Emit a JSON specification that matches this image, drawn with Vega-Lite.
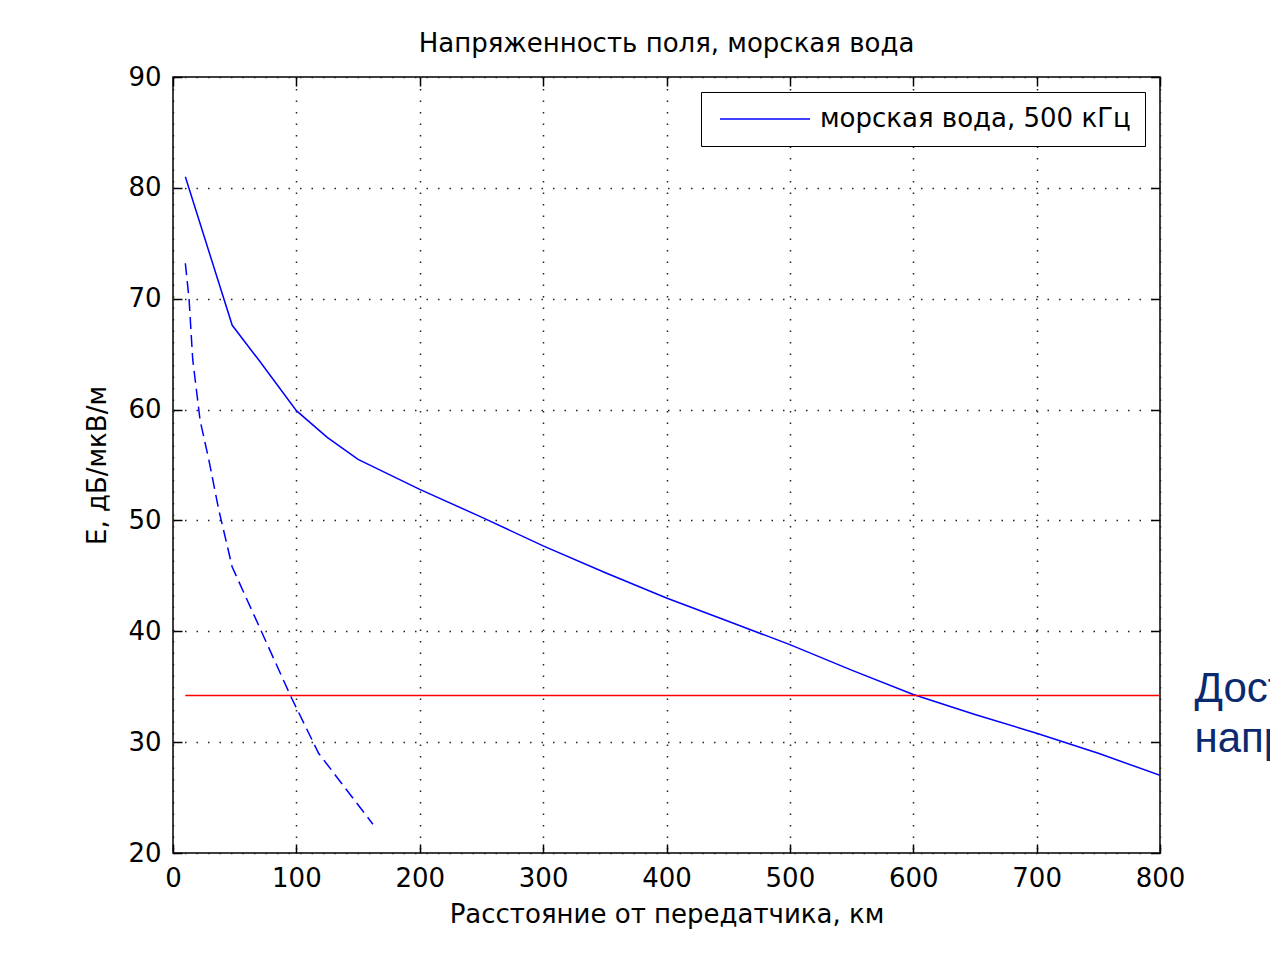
{
  "$schema": "https://vega.github.io/schema/vega-lite/v6.json",
  "autosize": {"type": "none"},
  "padding": {"left": 173, "top": 77, "right": 110, "bottom": 100},
  "width": 987,
  "height": 776,
  "background": "white",
  "title": {"text": "Напряженность поля, морская вода", "font": "DejaVu Sans", "fontSize": 26, "fontWeight": "normal", "color": "black", "offset": 7},
  "config": {
    "view": {"stroke": "black", "strokeWidth": 1.5},
    "axis": {"labelFont": "DejaVu Sans", "labelFontSize": 26, "labelColor": "black", "titleFont": "DejaVu Sans", "titleFontSize": 26, "titleFontWeight": "normal", "titleColor": "black", "domain": false, "tickColor": "black", "tickWidth": 1.5, "tickSize": -9, "labelFlush": false, "gridColor": "#222", "gridDash": [1.5, 10], "gridWidth": 1.5, "gridOpacity": 1}
  },
  "datasets": {
    "solid": [
      {"d": 10, "e": 81.0}, {"d": 48, "e": 67.6}, {"d": 70, "e": 64.4}, {"d": 100, "e": 59.9},
      {"d": 125, "e": 57.5}, {"d": 150, "e": 55.5}, {"d": 200, "e": 52.8}, {"d": 250, "e": 50.3},
      {"d": 300, "e": 47.7}, {"d": 350, "e": 45.3}, {"d": 400, "e": 43.0}, {"d": 450, "e": 40.9},
      {"d": 500, "e": 38.8}, {"d": 550, "e": 36.5}, {"d": 600, "e": 34.3}, {"d": 650, "e": 32.5},
      {"d": 700, "e": 30.8}, {"d": 750, "e": 29.0}, {"d": 800, "e": 27.0}
    ],
    "dashed": [
      {"d": 10, "e": 73.2}, {"d": 13, "e": 70.0}, {"d": 16, "e": 64.5}, {"d": 22, "e": 59.0},
      {"d": 29, "e": 55.5}, {"d": 37, "e": 51.0}, {"d": 48, "e": 45.8}, {"d": 96, "e": 34.0},
      {"d": 118, "e": 29.0}, {"d": 162, "e": 22.6}
    ],
    "threshold": [{"d": 10, "e": 34.2}, {"d": 800, "e": 34.2}],
    "note": [{"d": 828, "e": 33.6, "t": "Достаточная"}, {"d": 828, "e": 29.1, "t": "напряженность"}]
  },
  "layer": [
    {
      "data": {"name": "solid"},
      "mark": {"type": "line", "strokeWidth": 1.5, "clip": true},
      "encoding": {
        "x": {"field": "d", "type": "quantitative", "scale": {"domain": [0, 800], "nice": false, "clamp": false}, "axis": {"orient": "bottom", "values": [0,100,200,300,400,500,600,700,800], "title": "Расстояние от передатчика, км", "grid": true, "labelPadding": 21, "titlePadding": 10}},
        "y": {"field": "e", "type": "quantitative", "scale": {"domain": [20, 90], "nice": false, "zero": false}, "axis": {"orient": "left", "values": [20,30,40,50,60,70,80,90], "title": "E, дБ/мкВ/м", "grid": true, "labelPadding": 21, "titlePadding": 17}},
        "color": {"datum": "морская вода, 500 кГц", "type": "nominal", "scale": {"range": ["#0000ff"]}, "legend": {"title": null, "orient": "top-right", "offset": 15, "symbolType": "M-5,0H5", "symbolSize": 324, "symbolOffset": 37, "symbolStrokeWidth": 1.5, "labelFont": "DejaVu Sans", "labelFontSize": 26, "labelLimit": 500, "labelColor": "black", "strokeColor": "black", "fillColor": "white", "padding": 14, "labelOffset": 42}}
      }
    },
    {
      "data": {"name": "dashed"},
      "mark": {"type": "line", "strokeWidth": 1.5, "color": "#0000ff", "strokeDash": [12, 6], "clip": true},
      "encoding": {
        "x": {"field": "d", "type": "quantitative", "axis": {"orient": "top", "values": [0,100,200,300,400,500,600,700,800], "labels": false, "title": null, "grid": false}},
        "y": {"field": "e", "type": "quantitative", "axis": {"orient": "right", "values": [20,30,40,50,60,70,80,90], "labels": false, "title": null, "grid": false}}
      }
    },
    {
      "data": {"name": "threshold"},
      "mark": {"type": "line", "strokeWidth": 1.5, "color": "#ff0000", "clip": true},
      "encoding": {
        "x": {"field": "d", "type": "quantitative", "axis": null},
        "y": {"field": "e", "type": "quantitative", "axis": null}
      }
    },
    {
      "data": {"name": "note"},
      "mark": {"type": "text", "align": "left", "baseline": "alphabetic", "font": "Liberation Sans", "fontSize": 42, "color": "#0b2a6e"},
      "encoding": {
        "x": {"field": "d", "type": "quantitative", "axis": null},
        "y": {"field": "e", "type": "quantitative", "axis": null},
        "text": {"field": "t"}
      }
    }
  ],
  "resolve": {"axis": {"x": "independent", "y": "independent"}}
}
